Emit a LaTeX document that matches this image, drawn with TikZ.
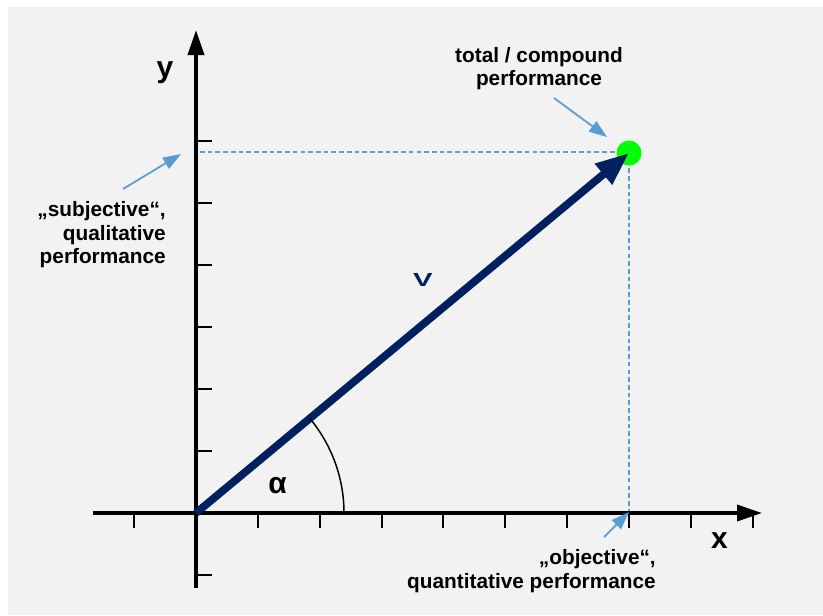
\documentclass[tikz,border=0pt]{standalone}
\usepackage{fontspec}
\setmainfont{Liberation Sans}
\usetikzlibrary{arrows.meta}
\definecolor{bg}{HTML}{F2F2F2}
\definecolor{navy}{HTML}{002060}
\definecolor{lblue}{HTML}{5B9BD5}
\definecolor{dotgreen}{HTML}{00FF00}
\begin{document}
\begin{tikzpicture}[x=0.75pt,y=-0.75pt,
  axis/.style={line width=2.7pt, -{Triangle[length=18.75pt,width=12pt]}},
  tickmark/.style={line width=1.5pt},
  guide/.style={lblue, line width=1.8pt, dash pattern=on 3.5pt off 2.3pt},
  pointer/.style={lblue, line width=1.3pt, -{Triangle[length=13.5pt,width=9.5pt]}},
  lbl/.style={font=\bfseries\fontsize{15.6}{17.25}\selectfont, inner sep=0pt},
  big/.style={font=\bfseries\fontsize{22.5}{26}\selectfont, inner sep=0pt}]
\useasboundingbox (0,0) rectangle (823,615);
\fill[white] (0,0) rectangle (823,615);
\fill[bg] (8,7) rectangle (823,615);
% coordinates
\coordinate (O) at (196,513);
\coordinate (ybot) at (196,588);
\coordinate (ytop) at (196,30);
\coordinate (xleft) at (93,513);
\coordinate (xright) at (762,513);
\coordinate (P) at (629,153);
\coordinate (hy) at (200,152);
\coordinate (hx) at (629,152);
\coordinate (vx) at (629,513);
\coordinate (arcstart) at (344,513);
% guides
\draw[guide] (hy) -- (hx);
\draw[guide] (P) -- (vx);
% ticks
\foreach \k in {-1,1,2,3,4,5,6,7,8,9}
  \draw[tickmark] ({196+61.85*\k},513) -- ({196+61.85*\k},528);
\foreach \k in {-1,1,2,3,4,5,6}
  \draw[tickmark] (196,{513-62*\k}) -- (212,{513-62*\k});
% axes
\draw[axis] (ybot) -- (ytop);
\draw[axis] (xleft) -- (xright);
% point
\node[circle, fill=dotgreen, minimum size=18.75pt, inner sep=0pt] (dot) at (P) {};
% vector
\draw[navy, line width=5.8pt, -{Triangle[length=25pt,width=19pt]}] (O) -- (P);
% angle arc
\draw[line width=1.1pt] (arcstart) arc[start angle=0, end angle=-39.74, radius=148];
% labels
\node[big, anchor=base] (ylab) at (165,77) {y};
\node[big, anchor=base] (xlab) at (719.5,548) {x};
\node[big, anchor=base] (alpha) at (277.5,493) {α};
\node[navy, anchor=base, inner sep=0pt, font=\bfseries\fontsize{14.2}{16}\selectfont] (vlab) at (423,286) {\scalebox{1.55}[1]{V}};
\node[lbl, anchor=base] (tot1) at (539,62) {total / compound};
\node[lbl, anchor=base] (tot2) at (539,85) {performance};
\node[lbl, anchor=base east] (sub1) at (166,216) {„subjective“,};
\node[lbl, anchor=base east] (sub2) at (166,240) {qualitative};
\node[lbl, anchor=base east] (sub3) at (166,263) {performance};
\node[lbl, anchor=base east] (obj1) at (656,564) {„objective“,};
\node[lbl, anchor=base east] (obj2) at (656,588) {quantitative performance};
% pointers
\coordinate (t0) at (554,98);
\coordinate (t1) at (607,137);
\coordinate (s0) at (123,189);
\coordinate (s1) at (181,154);
\coordinate (o0) at (604,537);
\coordinate (o1) at (629,512);
\draw[pointer] (t0) -- (t1);
\draw[pointer] (s0) -- (s1);
\draw[pointer] (o0) -- (o1);
\end{tikzpicture}
\end{document}
